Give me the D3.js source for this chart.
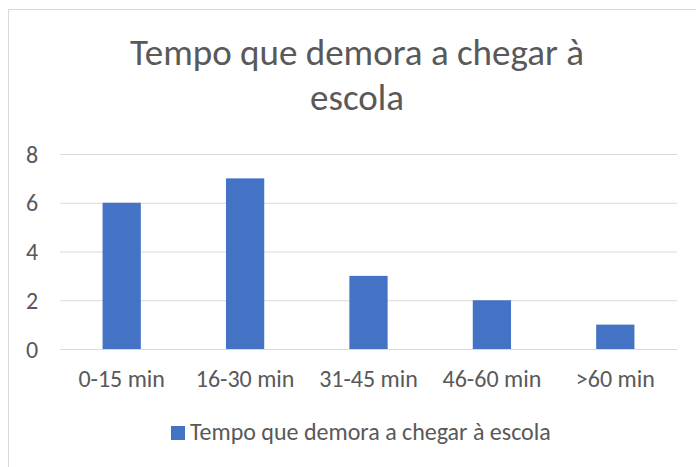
<!DOCTYPE html>
<html>
<head>
<meta charset="utf-8">
<script src="https://cdn.jsdelivr.net/npm/d3@7"></script>
<style>
  html, body { margin: 0; padding: 0; background: #fff; }
  svg { display: block; }
  text { font-family: Carlito, Calibri, "Open Sans", sans-serif; fill: #595959; }
</style>
</head>
<body>
<svg id="chart" width="696" height="467"></svg>
<script>
const categories = ["0-15 min", "16-30 min", "31-45 min", "46-60 min", ">60 min"];
const values = [6, 7, 3, 2, 1];
const yTicks = [0, 2, 4, 6, 8];
const titleLines = ["Tempo que demora a chegar à", "escola"];
const seriesName = "Tempo que demora a chegar à escola";

const W = 696, H = 467;
const svg = d3.select("#chart");

// chart frame
svg.append("rect")
  .attr("x", 8.5).attr("y", 9.5)
  .attr("width", 720).attr("height", 500)
  .attr("fill", "#fff").attr("stroke", "#d9d9d9").attr("stroke-width", 1);

const plot = { left: 60, right: 677, top: 154, bottom: 349 };

const x = d3.scaleBand().domain(categories).range([plot.left, plot.right]).paddingInner(0.69).paddingOuter(0.345);
const y = d3.scaleLinear().domain([0, 8]).range([plot.bottom, plot.top]);

// title
svg.append("text")
  .attr("x", 357).attr("y", 65)
  .attr("text-anchor", "middle")
  .style("font-size", "37px")
  .selectAll("tspan").data(titleLines).join("tspan")
  .attr("x", 357).attr("dy", (d, i) => i === 0 ? 0 : 45)
  .text(d => d);

// gridlines
const yAxis = d3.axisLeft(y).tickValues(yTicks).tickSize(-(plot.right - plot.left)).tickPadding(22);
const gy = svg.append("g").attr("transform", `translate(${plot.left},0)`).call(yAxis);
gy.select(".domain").remove();
gy.selectAll(".tick line").attr("stroke", "#d9d9d9").attr("stroke-width", 1);
gy.selectAll(".tick text").style("font-size", "24px").attr("fill", "#595959").attr("text-anchor", "middle").attr("x", -28).attr("dy", "0.34em");

// bars
svg.append("g").selectAll("rect").data(values).join("rect")
  .attr("x", (d, i) => x(categories[i]))
  .attr("y", d => y(d))
  .attr("width", x.bandwidth())
  .attr("height", d => y(0) - y(d))
  .attr("fill", "#4472C4");

// x axis
const xAxis = d3.axisBottom(x).tickSize(0).tickPadding(0);
const gx = svg.append("g").attr("transform", `translate(0,${plot.bottom})`).call(xAxis);
gx.select(".domain").remove();
gx.selectAll(".tick text").style("font-size", "24px").attr("fill", "#595959").attr("dy", null).attr("y", 38);
// baseline gridline drawn on top
svg.append("line").attr("x1", plot.left).attr("x2", plot.right)
  .attr("y1", y(0) + 0.5).attr("y2", y(0) + 0.5).attr("stroke", "#d9d9d9");

// legend
const lg = svg.append("g").attr("transform", "translate(171,426)");
lg.append("rect").attr("width", 14).attr("height", 14).attr("fill", "#4472C4");
lg.append("text").attr("x", 19).attr("y", 14).style("font-size", "24px").text(seriesName);
</script>
</body>
</html>
